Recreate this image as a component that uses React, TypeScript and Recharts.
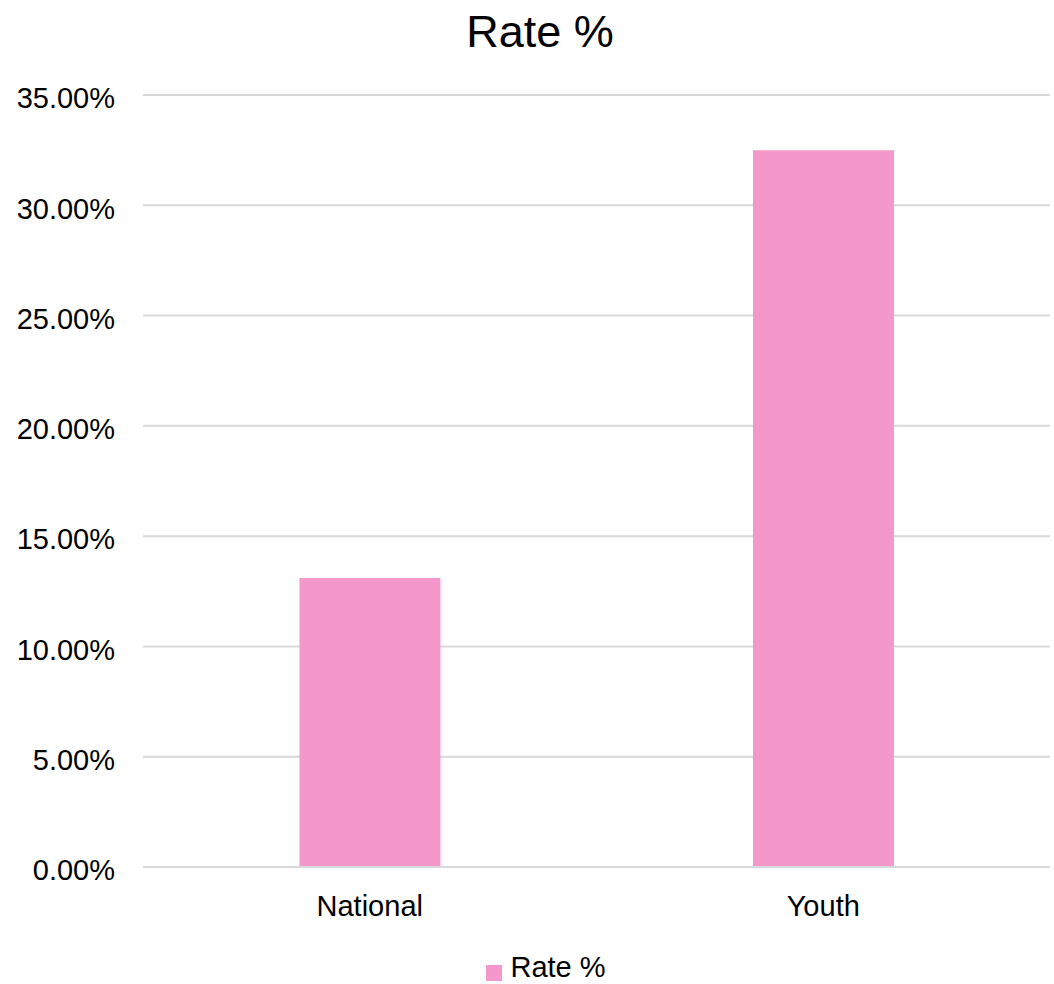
import { BarChart, Bar, XAxis, YAxis, CartesianGrid, Legend } from 'recharts';

const categories = ['National', 'Youth'];
const rates = [13.1, 32.5];
const yTicks = [0, 5, 10, 15, 20, 25, 30, 35];
const seriesName = 'Rate %';

const data = categories.map((c, i) => ({ name: c, rate: rates[i] }));

const FONT = '"Liberation Sans", Arial, sans-serif';

export default function App() {
  return (
    <div
      style={{
        position: 'absolute',
        left: 0,
        top: 0,
        width: 1054,
        height: 984,
        background: '#fff',
        fontFamily: FONT,
      }}
    >
      {/* chart title */}
      <div
        style={{
          position: 'absolute',
          left: 0,
          top: 6,
          width: 1080,
          textAlign: 'center',
          fontSize: 45,
          color: '#000',
        }}
      >
        Rate %
      </div>
      <BarChart
        width={1054}
        height={984}
        data={data}
        margin={{ top: 95, right: 4, left: 0, bottom: 0 }}
        barCategoryGap="34.5%"
      >
        <CartesianGrid vertical={false} stroke="#d9d9d9" strokeWidth={2} />
        <XAxis
          dataKey="name"
          height={84}
          axisLine={{ stroke: '#d9d9d9', strokeWidth: 2 }}
          tickLine={false}
          tickSize={0}
          tickMargin={28}
          tick={{ fill: '#000', fontSize: 29 }}
        />
        <YAxis
          width={143}
          domain={[0, 35]}
          ticks={yTicks}
          axisLine={false}
          tickLine={false}
          tickSize={0}
          tickMargin={28}
          tick={{ fill: '#000', fontSize: 29, dy: 3 }}
          tickFormatter={v => `${v.toFixed(2)}%`}
        />
        <Legend
          verticalAlign="bottom"
          iconType="square"
          iconSize={16}
          wrapperStyle={{ paddingLeft: 26 }}
          formatter={v => (
            <span style={{ color: '#000', fontSize: 29, paddingLeft: 4 }}>{v}</span>
          )}
        />
        <Bar dataKey="rate" name={seriesName} fill="#F497CA" isAnimationActive={false} />
      </BarChart>
    </div>
  );
}
